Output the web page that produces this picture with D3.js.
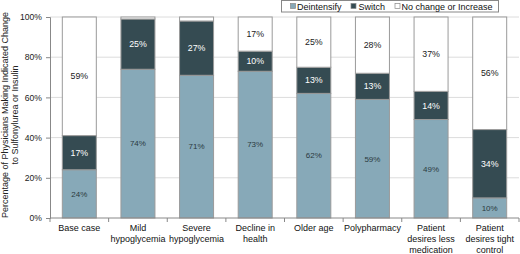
<!DOCTYPE html>
<html>
<head>
<meta charset="utf-8">
<script src="https://cdn.jsdelivr.net/npm/d3@7"></script>
<style>
  body { margin: 0; background: #fff; }
  svg { display: block; font-family: "Liberation Sans", Arial, sans-serif; }
</style>
</head>
<body>
<svg id="chart" width="520" height="254"></svg>
<script>
// categories, each label split into lines
const categories = [
  ["Base case"],
  ["Mild", "hypoglycemia"],
  ["Severe", "hypoglycemia"],
  ["Decline in", "health"],
  ["Older age"],
  ["Polypharmacy"],
  ["Patient", "desires less", "medication"],
  ["Patient", "desires tight", "control"]
];
const deintensify = [24, 74, 71, 73, 62, 59, 49, 10];
const switchVals  = [17, 25, 27, 10, 13, 13, 14, 34];
const noChange    = [59, 1, 2, 17, 25, 28, 37, 56];
const seriesNames = ["Deintensify", "Switch", "No change or Increase"];
const yTicks = [0, 20, 40, 60, 80, 100];

const colors = ["#87a9b8", "#354b52", "#ffffff"];
const labelColors = ["#2b3a40", "#ffffff", "#222222"];

const svg = d3.select("#chart");
const plot = { left: 50, right: 519, top: 17, bottom: 218 };

const keys = categories.map((c, i) => i);
const x = d3.scaleBand().domain(keys).range([plot.left, plot.right]).paddingInner(0.42).paddingOuter(0.21);
const xTickScale = d3.scaleLinear().domain([0, categories.length]).range([plot.left, plot.right]);
const y = d3.scaleLinear().domain([0, 100]).range([plot.bottom, plot.top]);

// gridlines
svg.append("g")
  .selectAll("line")
  .data(yTicks.filter(d => d > 0))
  .join("line")
  .attr("x1", plot.left).attr("x2", plot.right)
  .attr("y1", d => y(d)).attr("y2", d => y(d))
  .attr("stroke", "#dcdcdc");

// stacked data
const rows = keys.map(i => ({ i, s0: deintensify[i], s1: switchVals[i], s2: noChange[i] }));
const stack = d3.stack().keys(["s0", "s1", "s2"])(rows);

const layers = svg.append("g").selectAll("g")
  .data(stack)
  .join("g")
  .attr("fill", (d, k) => colors[k]);

layers.selectAll("rect")
  .data(d => d)
  .join("rect")
  .attr("x", d => x(d.data.i))
  .attr("width", x.bandwidth())
  .attr("y", d => y(d[1]))
  .attr("height", d => y(d[0]) - y(d[1]))
  .attr("stroke", "#9a9a9a")
  .attr("stroke-width", 1);

// segment labels
stack.forEach((layer, k) => {
  svg.append("g").selectAll("text")
    .data(layer.filter(d => d[1] - d[0] >= 5))
    .join("text")
    .attr("x", d => x(d.data.i) + x.bandwidth() / 2)
    .attr("y", d => y((d[0] + d[1]) / 2))
    .attr("dy", "0.35em")
    .attr("text-anchor", "middle")
    .attr("fill", labelColors[k])
    .attr("font-size", k === 0 ? 8 : 8.8)
    .text(d => (d[1] - d[0]) + "%");
});

// y axis
const yAxis = svg.append("g")
  .attr("transform", `translate(${plot.left},0)`)
  .call(d3.axisLeft(y).tickValues(yTicks).tickFormat(d => d + "%").tickSize(4).tickPadding(4));
yAxis.select(".domain").attr("stroke", "#888");
yAxis.selectAll(".tick line").attr("stroke", "#888");
yAxis.selectAll(".tick text").attr("font-size", 8.6).attr("fill", "#222").attr("font-family", null);

// x axis
svg.append("line")
  .attr("x1", plot.left).attr("x2", plot.right)
  .attr("y1", plot.bottom).attr("y2", plot.bottom)
  .attr("stroke", "#888");
svg.append("g").selectAll("line")
  .data(d3.range(categories.length + 1))
  .join("line")
  .attr("x1", d => xTickScale(d)).attr("x2", d => xTickScale(d))
  .attr("y1", plot.bottom).attr("y2", plot.bottom + 4)
  .attr("stroke", "#888");

const xl = svg.append("g").selectAll("text")
  .data(keys)
  .join("text")
  .attr("text-anchor", "middle")
  .attr("font-size", 9)
  .attr("fill", "#111")
  .attr("transform", d => `translate(${x(d) + x.bandwidth() / 2},${plot.bottom + 13})`);
xl.selectAll("tspan")
  .data(d => categories[d])
  .join("tspan")
  .attr("x", 0)
  .attr("y", (d, j) => j * 11)
  .text(d => d);

// y title
const yt = svg.append("text")
  .attr("transform", "translate(8,115) rotate(-90)")
  .attr("text-anchor", "middle")
  .attr("font-size", 9)
  .attr("fill", "#222");
yt.append("tspan").attr("x", 0).attr("y", 0).text("Percentage of Physicians Making Indicated Change");
yt.append("tspan").attr("x", 0).attr("y", 10).text("to Sulfonylurea or Insulin");

// legend
const legend = svg.append("g");
legend.append("rect")
  .attr("x", 281.5).attr("y", 0.5).attr("width", 217).attr("height", 11.5)
  .attr("fill", "#fff").attr("stroke", "#888");
const legSwatch = [290.5, 351, 395];
const legText = [297, 358.5, 401.5];
seriesNames.forEach((name, k) => {
  legend.append("rect")
    .attr("x", legSwatch[k]).attr("y", 3.5).attr("width", 5).attr("height", 5)
    .attr("fill", colors[k]).attr("stroke", "#888").attr("stroke-width", 0.7);
  legend.append("text")
    .attr("x", legText[k]).attr("y", 9.5)
    .attr("font-size", 9).attr("fill", "#111")
    .text(name);
});
</script>
</body>
</html>
